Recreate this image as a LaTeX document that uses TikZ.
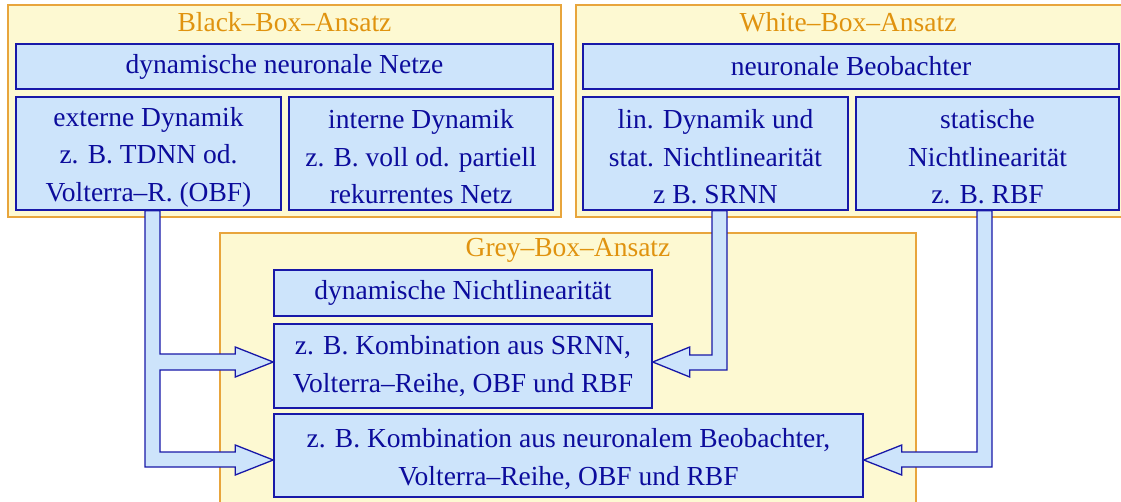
\documentclass[tikz,border=0pt]{standalone}
\usepackage{fontspec}
\setmainfont{Liberation Serif}
\usetikzlibrary{calc}
\definecolor{contfill}{HTML}{FDF9D2}
\definecolor{contdraw}{HTML}{E8A53C}
\definecolor{conttext}{HTML}{E0930F}
\definecolor{boxfill}{HTML}{CDE4FB}
\definecolor{boxdraw}{HTML}{1818A8}
\definecolor{boxtext}{HTML}{0C0C9C}
\newcommand{\topstrut}{\rule{0pt}{26pt}}
\tikzset{
  container/.style={draw=contdraw, fill=contfill, line width=1.6pt},
  ctitle/.style={text=conttext, inner sep=0pt, font=\fontsize{27.5}{37.5}\selectfont},
  bluebox/.style={draw=boxdraw, fill=boxfill, line width=1.5pt, text=boxtext,
    inner sep=0pt, align=center, font=\fontsize{27.5}{37.5}\selectfont},
  fatarrow/.style={draw=boxdraw, fill=boxfill, line width=1.3pt, line join=miter},
}
\begin{document}
\begin{tikzpicture}[x=1pt,y=-1pt]
\useasboundingbox (0,0) rectangle (1121,501);
\clip (0,0) rectangle (1121,501);
% containers
\draw[container] (8,5) rectangle (561,217);
\draw[container] (576,5) rectangle (1127,217);
\draw[container] (220,233) rectangle (916,520);
\node[ctitle] (tbb) at (284.5,22) {Black–Box–Ansatz};
\node[ctitle] (twb) at (848,22) {White–Box–Ansatz};
\node[ctitle] (tgb) at (568,250) {Grey–Box–Ansatz};
% black box
\node[bluebox, minimum width=537, minimum height=45] (dnn) at (284.5,66.5) {dynamische neuronale Netze};
\node[bluebox, minimum width=265, minimum height=113] (ext) at (148.5,153.5) {\topstrut externe Dynamik\\z. B. TDNN od.\\Volterra–R. (OBF)};
\node[bluebox, minimum width=264, minimum height=113] (int) at (421,153.5) {\topstrut interne Dynamik\\z. B. voll od. partiell\\rekurrentes Netz};
% white box
\node[bluebox, minimum width=536, minimum height=45] (nb) at (851,66.5) {neuronale Beobachter};
\node[bluebox, minimum width=265, minimum height=113] (lin) at (715.5,153.5) {\topstrut lin. Dynamik und\\stat. Nichtlinearität\\z B. SRNN};
\node[bluebox, minimum width=263, minimum height=113] (stat) at (987.5,153.5) {\topstrut statische\\Nichtlinearität\\z. B. RBF};
% grey box
\node[bluebox, minimum width=378, minimum height=46] (dnl) at (463,293) {dynamische Nichtlinearität};
\node[bluebox, minimum width=378, minimum height=84] (k1) at (463,366) {z. B. Kombination aus SRNN,\\Volterra–Reihe, OBF und RBF};
\node[bluebox, minimum width=589, minimum height=83] (k2) at (568.5,455.5) {\topstrut z. B. Kombination aus neuronalem Beobachter,\\Volterra–Reihe, OBF und RBF};
% arrow helper coordinates
\coordinate (a1) at ($(ext.south)+(-3.5,0)$);
\coordinate (a2) at ($(ext.south)+(11.5,0)$);
\coordinate (ut) at ($(k1.west)+(0,-12)$);
\coordinate (ub) at ($(k1.west)+(0,4)$);
\coordinate (lt) at ($(k2.west)+(0,-3.5)$);
\coordinate (lb) at ($(k2.west)+(0,11.5)$);
\coordinate (b1) at ($(lin.south)+(-3.5,0)$);
\coordinate (b2) at ($(lin.south)+(11.5,0)$);
\coordinate (rt) at ($(k1.east)+(0,-11)$);
\coordinate (rb) at ($(k1.east)+(0,4)$);
\coordinate (c1) at ($(stat.south)+(-10.5,0)$);
\coordinate (c2) at ($(stat.south)+(4.5,0)$);
\coordinate (st) at ($(k2.east)+(0,-3.5)$);
\coordinate (sb) at ($(k2.east)+(0,11.5)$);
% arrows
\draw[fatarrow]
  (a1) -- (a2) -- (a2 |- ut) -- ($(k1.west)+(-38,-12)$) -- ($(k1.west)+(-38,-19)$)
  -- ($(k1.west)+(0,-4)$) -- ($(k1.west)+(-38,11)$) -- ($(k1.west)+(-38,4)$)
  -- (a2 |- ub) -- (a2 |- lt) -- ($(k2.west)+(-38,-3.5)$) -- ($(k2.west)+(-38,-10.5)$)
  -- ($(k2.west)+(0,4.5)$) -- ($(k2.west)+(-38,19.5)$) -- ($(k2.west)+(-38,11.5)$)
  -- (a1 |- lb) -- cycle;
\draw[fatarrow]
  (b1) -- (b2) -- (b2 |- rb) -- ($(k1.east)+(37,4)$) -- ($(k1.east)+(37,11)$)
  -- ($(k1.east)+(0,-4)$) -- ($(k1.east)+(37,-19)$) -- ($(k1.east)+(37,-11)$)
  -- (b1 |- rt) -- cycle;
\draw[fatarrow]
  (c1) -- (c2) -- (c2 |- sb) -- ($(k2.east)+(38,11.5)$) -- ($(k2.east)+(38,19.5)$)
  -- ($(k2.east)+(0,4.5)$) -- ($(k2.east)+(38,-10.5)$) -- ($(k2.east)+(38,-3.5)$)
  -- (c1 |- st) -- cycle;
\end{tikzpicture}
\end{document}
